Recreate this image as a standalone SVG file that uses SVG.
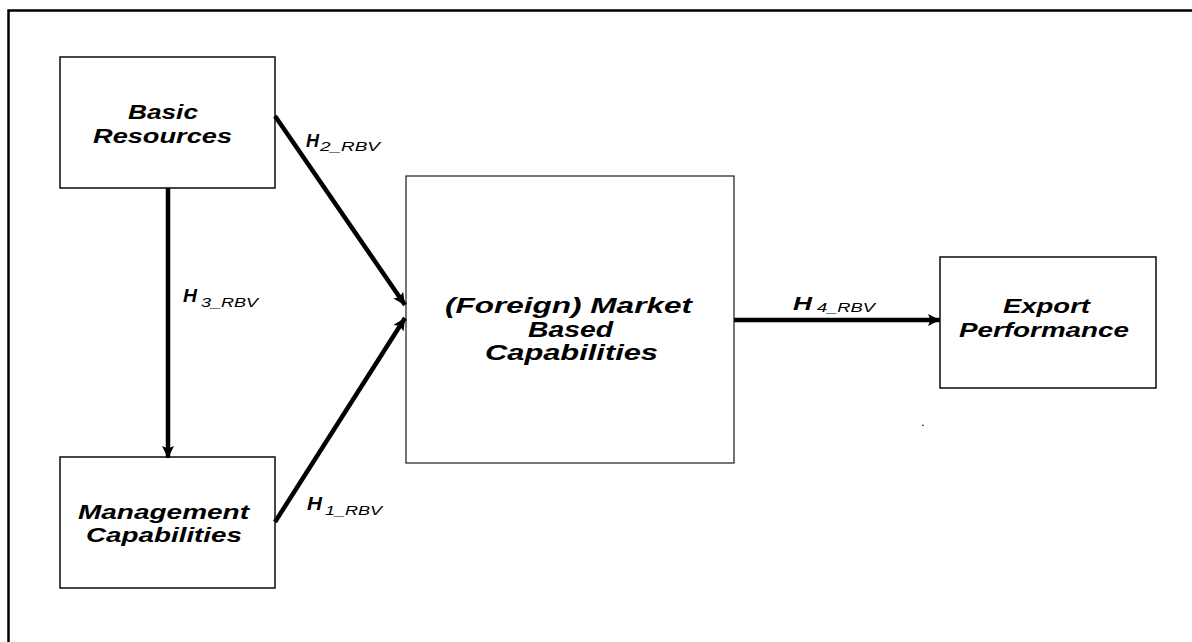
<svg xmlns="http://www.w3.org/2000/svg" width="1192" height="642" viewBox="0 0 1192 642">
  <style>
    .box { fill: #ffffff; stroke: #1a1a1a; stroke-width: 1.6; }
    .lbl { font-family: "Liberation Sans", Arial, sans-serif; font-weight: bold; font-style: italic; font-size: 21px; fill: #000; }
    .big { font-size: 22px; }
    .h { font-family: "Liberation Sans", Arial, sans-serif; font-weight: bold; font-style: italic; font-size: 19px; fill: #000; }
    .sub { font-family: "Liberation Sans", Arial, sans-serif; font-style: italic; font-size: 13px; fill: #000; }
    .edge { stroke: #000; stroke-width: 4.5; fill: none; marker-end: url(#head); }
  </style>
  <defs>
    <marker id="head" markerUnits="userSpaceOnUse" markerWidth="12" markerHeight="12" refX="12" refY="6" orient="auto">
      <path d="M0,0 L12,6 L0,12 L2.5,6 z" fill="#000"/>
    </marker>
  </defs>

  <rect width="1192" height="642" fill="#ffffff"/>
  <!-- outer frame (top and left edges) -->
  <path d="M8.5,642 V10.5 H1192" fill="none" stroke="#000" stroke-width="2.5"/>

  <g id="basic-resources">
    <rect class="box" x="60" y="57" width="215" height="131"/>
    <text class="lbl" x="128" y="119" textLength="70" lengthAdjust="spacingAndGlyphs">Basic</text>
    <text class="lbl" x="93" y="143" textLength="139" lengthAdjust="spacingAndGlyphs">Resources</text>
  </g>

  <g id="management-capabilities">
    <rect class="box" x="60" y="457" width="215" height="131"/>
    <text class="lbl" x="78" y="519" textLength="171" lengthAdjust="spacingAndGlyphs">Management</text>
    <text class="lbl" x="86" y="542" textLength="156" lengthAdjust="spacingAndGlyphs">Capabilities</text>
  </g>

  <g id="market-capabilities">
    <rect class="box" x="406" y="176" width="328" height="287" style="stroke-width:1.2"/>
    <text class="lbl big" x="445" y="313" textLength="247" lengthAdjust="spacingAndGlyphs">(Foreign) Market</text>
    <text class="lbl big" x="528" y="337" textLength="85" lengthAdjust="spacingAndGlyphs">Based</text>
    <text class="lbl big" x="485" y="360" textLength="173" lengthAdjust="spacingAndGlyphs">Capabilities</text>
  </g>

  <g id="export-performance">
    <rect class="box" x="940" y="257" width="216" height="131"/>
    <text class="lbl" x="1003" y="313" textLength="87" lengthAdjust="spacingAndGlyphs">Export</text>
    <text class="lbl" x="959" y="337" textLength="170" lengthAdjust="spacingAndGlyphs">Performance</text>
  </g>

  <!-- stray full stop below the performance box -->
  <text class="sub" x="921" y="426" style="font-style:normal;font-size:13px">.</text>

  <g id="connectors">
    <line class="edge" x1="275" y1="116" x2="405" y2="305"/>
    <line class="edge" x1="275" y1="522" x2="405" y2="318"/>
    <line class="edge" x1="168" y1="188" x2="168" y2="458"/>
    <line class="edge" x1="734" y1="320" x2="940" y2="320"/>
  </g>

  <g id="edge-labels">
    <text class="h" x="306" y="147" textLength="13" lengthAdjust="spacingAndGlyphs">H</text>
    <text class="sub" x="320" y="151" textLength="60" lengthAdjust="spacingAndGlyphs">2_RBV</text>

    <text class="h" x="183" y="302" textLength="14" lengthAdjust="spacingAndGlyphs">H</text>
    <text class="sub" x="201" y="307" textLength="57" lengthAdjust="spacingAndGlyphs">3_RBV</text>

    <text class="h" x="307" y="510" textLength="15" lengthAdjust="spacingAndGlyphs">H</text>
    <text class="sub" x="325" y="515" textLength="57" lengthAdjust="spacingAndGlyphs">1_RBV</text>

    <text class="h" x="793" y="310" textLength="19" lengthAdjust="spacingAndGlyphs">H</text>
    <text class="sub" x="817" y="312" textLength="58" lengthAdjust="spacingAndGlyphs">4_RBV</text>
  </g>
</svg>
